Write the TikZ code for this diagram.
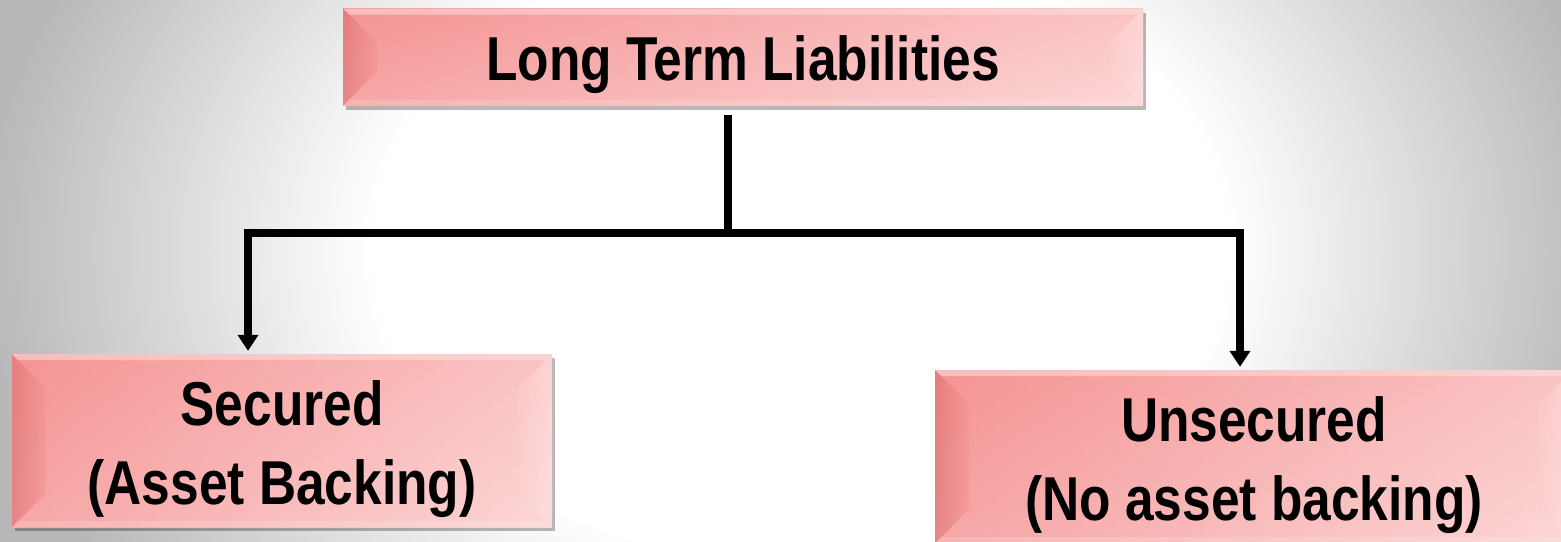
\documentclass[tikz,border=0pt]{standalone}
\usepackage{fontspec}
\setmainfont{Liberation Sans}[FakeStretch=0.83]
\usetikzlibrary{arrows.meta,shadows,calc}

\definecolor{faceL}{RGB}{245,148,148}
\definecolor{faceR}{RGB}{252,206,206}
\definecolor{bevelDark}{RGB}{220,112,112}
\definecolor{bevelLight}{RGB}{255,228,228}

% soft grey backdrop, white over the middle
\pgfdeclareradialshading{backdrop}{\pgfpoint{0bp}{0bp}}{%
  color(0bp)=(white); color(13bp)=(white); color(25bp)=(black!28); color(50bp)=(black!28)}

\tikzset{
  bevelbox/.style={
    inner sep=0pt, align=center, text=black, fill=faceL,
    font=\fontsize{62}{79}\selectfont\bfseries,
    drop shadow={shadow xshift=3pt, shadow yshift=-4pt, fill=black, opacity=0.28},
    path picture={
      \coordinate (nw) at (path picture bounding box.north west);
      \coordinate (ne) at (path picture bounding box.north east);
      \coordinate (sw) at (path picture bounding box.south west);
      \coordinate (se) at (path picture bounding box.south east);
      \shade[left color=faceL, right color=faceR] (sw) rectangle (ne);
      % soft vertical lift towards the bottom
      \shade[top color=faceL, bottom color=white, opacity=0.18] (sw) rectangle (ne);
      % left bevel, in shade
      \shade[left color=bevelDark, right color=faceL, opacity=0.6]
        (nw) -- ($(nw)+(34pt,-34pt)$) -- ($(sw)+(34pt,34pt)$) -- (sw) -- cycle;
      % right bevel, lit
      \shade[left color=faceR, right color=bevelLight, opacity=0.5]
        (ne) -- ($(ne)+(-34pt,-34pt)$) -- ($(se)+(-34pt,34pt)$) -- (se) -- cycle;
      % top edge highlight
      \fill[bevelLight, opacity=0.5] (nw) -- (ne) -- ($(ne)+(-6pt,-6pt)$) -- ($(nw)+(6pt,-6pt)$) -- cycle;
      % bottom edge
      \fill[white, opacity=0.15] (sw) -- (se) -- ($(se)+(-6pt,6pt)$) -- ($(sw)+(6pt,6pt)$) -- cycle;
    }
  },
  link/.style={line width=7.5pt, black},
  tip/.style={-{Triangle[width=20pt,length=16pt]}, shorten >=3pt}
}

\begin{document}
\begin{tikzpicture}[x=1pt, y=-1pt]
  \useasboundingbox (0,0) rectangle (1561,541);
  \clip (0,0) rectangle (1561,541);
  \shade[shading=backdrop] (-20,-350) rectangle (1620,850);

  % boxes
  \node[bevelbox, minimum width=800pt, minimum height=97pt, text height=59pt, text depth=13pt]
    (top) at (743,57) {Long Term Liabilities};
  \node[bevelbox, minimum width=540pt, minimum height=173pt, text height=140pt, text depth=13pt]
    (sec) at (282,440.5) {Secured\\(Asset Backing)};
  \node[bevelbox, minimum width=638pt, minimum height=173pt, text height=140pt, text depth=13pt]
    (unsec) at (1254,456.5) {Unsecured\\(No asset backing)};

  % connector tree
  \coordinate (stem) at (728,115);
  \coordinate (jl) at (248,233);
  \coordinate (jr) at (1240,233);
  \draw[link] (stem) -- (stem |- jl);
  \draw[link, line cap=rect] (jl) -- (jr);
  \draw[link, tip] (jl) -- (jl |- sec.north);
  \draw[link, tip] (jr) -- (jr |- unsec.north);
\end{tikzpicture}
\end{document}
